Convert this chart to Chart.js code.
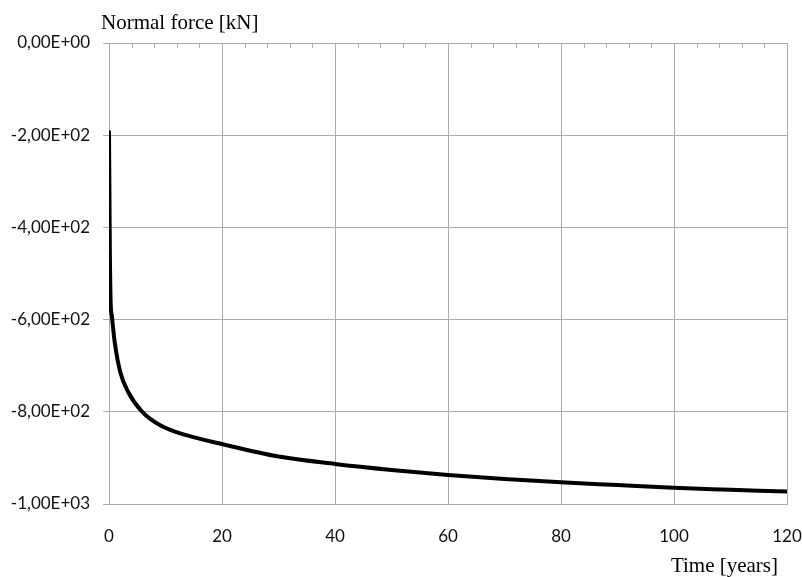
<!DOCTYPE html>
<html>
<head>
<meta charset="utf-8">
<script src="https://cdn.jsdelivr.net/npm/chart.js@4/dist/chart.umd.min.js"></script>
<style>
  html, body { margin: 0; padding: 0; background: #fff; }
  #wrap { width: 802px; height: 577px; position: relative; }
</style>
</head>
<body>
<div id="wrap"><canvas id="forceChart" width="802" height="577"></canvas></div>
<script>
// Donnees
const years = [0, 0.15, 0.3, 0.5, 1, 2, 3.4, 5.8, 9.3, 13.5, 20, 30, 40, 50, 60, 70, 80, 90, 100, 110, 120];
const normalForce = [-190, -450, -565, -592, -648, -714, -757, -799, -831, -850, -870, -897, -913, -926, -937, -946, -953, -959, -965, -969, -973];
const yTicks = [0, -200, -400, -600, -800, -1000];
const xTicks = [0, 20, 40, 60, 80, 100, 120];
const minorStep = 4;

const gridColor = "#ababab";

// format Excel "-2,00E+02"
function sciLabel(v) {
    if (v === 0) return "0,00E+00";
    const sign = v < 0 ? "-" : "";
    let a = Math.abs(v);
    const exp = Math.floor(Math.log10(a));
    const mant = (a / Math.pow(10, exp)).toFixed(2).replace(".", ",");
    return sign + mant + "E+" + String(exp).padStart(2, "0");
}

// titres horizontaux + petites graduations en haut
const extras = {
    id: "extras",
    afterDraw(chart) {
        const ctx = chart.ctx;
        const area = chart.chartArea;
        const x = chart.scales.x;
        ctx.save();
        ctx.strokeStyle = gridColor;
        ctx.lineWidth = 1;
        for (let v = 0; v <= 120; v += minorStep) {
            if (v % 20 === 0) continue;
            const px = Math.round(x.getPixelForValue(v)) + 0.5;
            ctx.beginPath();
            ctx.moveTo(px, area.top);
            ctx.lineTo(px, area.top + 5);
            ctx.stroke();
        }
        ctx.fillStyle = "#000";
        ctx.font = "21px 'Liberation Serif'";
        ctx.textBaseline = "alphabetic";
        ctx.textAlign = "left";
        ctx.fillText("Normal force [kN]", 101, 29);
        ctx.textAlign = "right";
        ctx.fillText("Time [years]", 778, 572);
        ctx.restore();
    }
};

const ctx = document.getElementById("forceChart").getContext("2d");
new Chart(ctx, {
    type: "line",
    data: {
        datasets: [{
            data: years.map((t, i) => ({ x: t, y: normalForce[i] })),
            borderColor: "#000",
            borderWidth: 4,
            pointRadius: 0,
            cubicInterpolationMode: "monotone",
            fill: false
        }]
    },
    options: {
        responsive: false,
        animation: false,
        layout: { padding: { left: 0, top: 43, right: 15, bottom: 0 } },
        plugins: {
            legend: { display: false },
            tooltip: { enabled: false }
        },
        scales: {
            x: {
                type: "linear",
                min: 0,
                max: 120,
                afterBuildTicks: (s) => { s.ticks = xTicks.map(v => ({ value: v })); },
                afterFit: (s) => { s.height = 73; s.paddingLeft = 0; s.paddingRight = 0; },
                grid: { color: gridColor, drawTicks: false },
                border: { color: gridColor },
                ticks: {
                    padding: 22,
                    color: "#111",
                    font: { family: "Lato", size: 17 },
                    maxRotation: 0
                }
            },
            y: {
                type: "linear",
                min: -1000,
                max: 0,
                afterBuildTicks: (s) => { s.ticks = yTicks.map(v => ({ value: v })); },
                afterFit: (s) => { s.width = 109; s.paddingTop = 0; s.paddingBottom = 0; },
                grid: { color: gridColor, tickLength: 6 },
                border: { color: gridColor },
                ticks: {
                    padding: 13,
                    color: "#111",
                    font: { family: "Lato", size: 17 },
                    callback: (v) => sciLabel(v)
                }
            }
        }
    },
    plugins: [extras]
});
</script>
</body>
</html>
